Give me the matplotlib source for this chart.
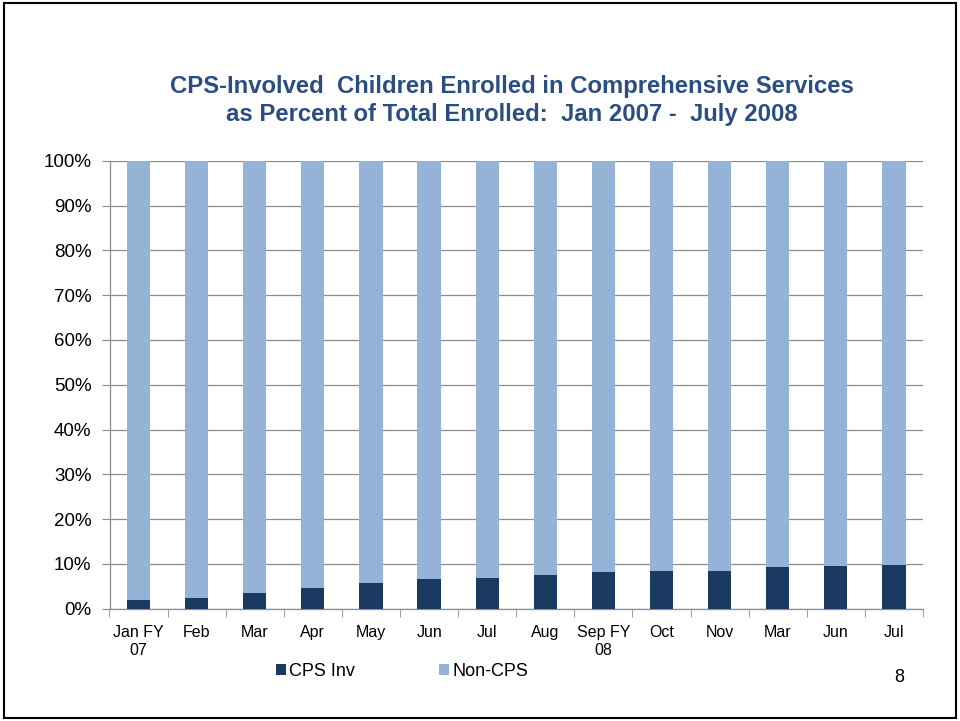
import matplotlib
matplotlib.use("Agg")
import matplotlib.pyplot as plt
from matplotlib.patches import Rectangle
import numpy as np

plt.rcParams['font.family'] = ['Liberation Sans', 'DejaVu Sans']

months = ["Jan FY\n07", "Feb", "Mar", "Apr", "May", "Jun", "Jul", "Aug",
          "Sep FY\n08", "Oct", "Nov", "Mar", "Jun", "Jul"]
cps_inv = [1.8, 2.3, 3.4, 4.5, 5.8, 6.5, 6.9, 7.4, 8.1, 8.3, 8.3, 9.3, 9.5, 9.7]
non_cps = [100 - v for v in cps_inv]
yticks = list(range(0, 101, 10))

dark = "#1B3A61"
light = "#95B3D7"
grid = "#8C8C8C"

fig = plt.figure(figsize=(9.6, 7.21), dpi=100)
fig.patches.append(Rectangle((0.004, 0.004), 0.992, 0.992, transform=fig.transFigure,
                             fill=False, edgecolor="black", linewidth=1.5))

ax = fig.add_axes([109.5 / 960, 1 - 608.5 / 721, (923 - 109.5) / 960, (608.5 - 161) / 721])
x = np.arange(len(months))
ax.bar(x, cps_inv, width=0.40, color=dark, label="CPS Inv", zorder=3)
ax.bar(x, non_cps, width=0.40, bottom=cps_inv, color=light, label="Non-CPS", zorder=3)

ax.set_xlim(-0.5, len(months) - 0.5)
ax.set_ylim(0, 100)
ax.set_yticks(yticks)
ax.set_yticklabels([f"{t}%" for t in yticks], fontsize=13.5)
ax.yaxis.grid(True, color=grid, linewidth=0.9, zorder=0)
ax.set_xticks(x)
ax.set_xticklabels(months, fontsize=11.5, linespacing=1.25)
ax.tick_params(axis="x", length=0, pad=12)
ax.tick_params(axis="y", length=6, color=grid, pad=7)
ax.set_xticks(np.arange(-0.5, len(months), 1), minor=True)
ax.tick_params(axis="x", which="minor", length=6, color=grid, direction="out")
for s in ["top", "right"]:
    ax.spines[s].set_visible(False)
for s in ["left", "bottom"]:
    ax.spines[s].set_color(grid)
    ax.spines[s].set_linewidth(0.9)

title_color = "#2A4E82"
fig.text(511.5 / 960, 1 - 86 / 721, "CPS-Involved  Children Enrolled in Comprehensive Services",
         ha="center", va="center", fontsize=17.2, fontweight="bold", color=title_color)
fig.text(511.5 / 960, 1 - 114 / 721, "as Percent of Total Enrolled:  Jan 2007 -  July 2008",
         ha="center", va="center", fontsize=17.2, fontweight="bold", color=title_color)

fig.legend(loc="center", bbox_to_anchor=(402 / 960, 1 - 671 / 721), ncol=2,
           frameon=False, fontsize=13, handlelength=0.55, handleheight=0.55,
           handletextpad=0.15, columnspacing=4.7)

fig.text(899 / 960, 1 - 678 / 721, "8", ha="center", va="center", fontsize=13)

fig.savefig("out.png", dpi=100)
